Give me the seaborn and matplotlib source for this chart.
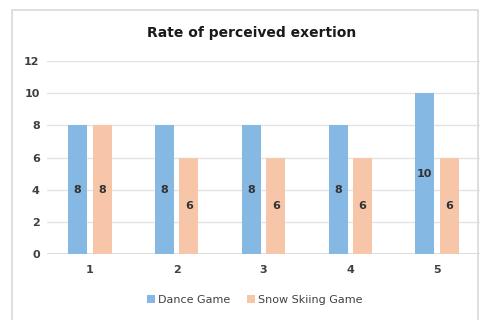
import matplotlib
matplotlib.use("Agg")
import matplotlib.pyplot as plt
from matplotlib.patches import Rectangle
import seaborn as sns
import pandas as pd

sessions = ["1", "2", "3", "4", "5"]
dance_game = [8, 8, 8, 8, 10]
snow_skiing_game = [8, 6, 6, 6, 6]
series_names = ["Dance Game", "Snow Skiing Game"]
y_ticks = [0, 2, 4, 6, 8, 10, 12]

df = pd.DataFrame({
    "session": sessions * 2,
    "rpe": dance_game + snow_skiing_game,
    "game": [series_names[0]] * len(sessions) + [series_names[1]] * len(sessions),
})

sns.set_theme(style="white")
plt.rcParams["font.family"] = ["DejaVu Sans"]

fig = plt.figure(figsize=(4.8, 3.2), dpi=100)
ax = fig.add_axes([46.6 / 480, 66 / 320, 433.8 / 480, 193 / 320])

palette = {series_names[0]: "#85B8E2", series_names[1]: "#F7C5A8"}
sns.barplot(data=df, x="session", y="rpe", hue="game", palette=palette,
            width=0.565, gap=0.225, saturation=1, ax=ax, legend=True,
            edgecolor="none", linewidth=0)

for cont in ax.containers:
    ax.bar_label(cont, label_type="center", fontsize=8, color="#333333",
                 fontweight="semibold")

ax.set_ylim(0, 12)
ax.set_xlim(-0.5, 4.5)
ax.set_yticks(y_ticks)
ax.yaxis.grid(True, color="#E3E3E3", linewidth=1)
ax.set_axisbelow(True)
for s in ["top", "right", "left", "bottom"]:
    ax.spines[s].set_visible(False)
ax.axhline(0, color="#D4D4D4", linewidth=1.2, zorder=0.5)
ax.set_xlabel("")
ax.set_ylabel("")
ax.tick_params(axis="y", length=0, labelsize=8, labelcolor="#404040", pad=5)
ax.tick_params(axis="x", length=0, labelsize=8, labelcolor="#404040", pad=8)
for lbl in ax.get_xticklabels() + ax.get_yticklabels():
    lbl.set_fontweight("semibold")

ax.legend(loc="center", bbox_to_anchor=(255 / 480, 20 / 320),
          bbox_transform=fig.transFigure, ncol=2, frameon=False,
          fontsize=8, handlelength=0.7, handleheight=0.7,
          handletextpad=0.3, columnspacing=1.5,
          labelcolor="#404040")

fig.text(252 / 480, 1 - 33 / 320, "Rate of perceived exertion",
         ha="center", va="center", fontsize=10, fontweight="bold",
         color="#1a1a1a")

fig.patches.append(Rectangle((12 / 480, -0.05), 466 / 480, 1.05 - 10 / 320,
                             transform=fig.transFigure, fill=False,
                             edgecolor="#D9D9D9", linewidth=1.2))

fig.savefig("out.png", dpi=100)
